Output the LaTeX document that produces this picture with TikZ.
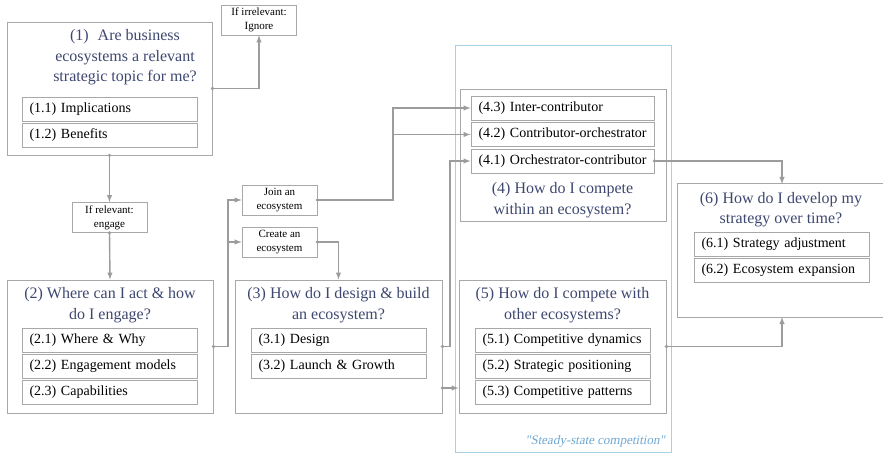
\documentclass[tikz,border=0pt]{standalone}
\usepackage{fontspec}
\setmainfont{Liberation Serif}
\newfontfamily\lslant{Liberation Serif}[FakeSlant=0.2]
\definecolor{boxgray}{HTML}{A8A8A8}
\definecolor{linegray}{HTML}{9C9C9C}
\definecolor{titleblue}{HTML}{3E4770}
\definecolor{framblue}{HTML}{A9D1E6}
\definecolor{noteblue}{HTML}{6FA8D3}
\begin{document}
\begin{tikzpicture}[x=1pt,y=-1pt,
  frame/.style={draw=boxgray, line width=0.9pt, inner sep=0pt},
  title/.style={text=titleblue, align=center, inner sep=0pt, font=\fontsize{16}{20.5}\selectfont},
  sub/.style={draw=boxgray, line width=0.9pt, inner xsep=7.5pt, inner ysep=0pt, minimum height=24pt,
              text width=160pt, align=left, font=\fontsize{14}{16}\selectfont},
  small/.style={draw=boxgray, line width=0.7pt, inner sep=0pt, minimum width=75pt, minimum height=30pt,
              align=center, font=\fontsize{11}{14}\selectfont},
  conn/.style={draw=linegray, line width=1.4pt, -latex},
  dot/.style={circle, fill=linegray, inner sep=0pt, minimum size=3.6pt}
]
\useasboundingbox (0,0) rectangle (883,454);

% steady-state frame
\node[draw=framblue, line width=0.8pt, inner sep=0pt, minimum width=216pt, minimum height=407pt] (steady) at (563,248.5) {};
\node[text=noteblue, font=\fontsize{13}{15}\selectfont\lslant, anchor=east, inner sep=0pt] (steadytxt) at (665,441) {"Steady-state competition"};

% box 1
\node[frame, minimum width=205pt, minimum height=133pt] (b1) at (109.5,88.5) {};
\node[title] (t1) at (125,57.5) {(1)\hspace{9pt}Are business\\ecosystems a relevant\\strategic topic for me?};
\node[sub] (s11) at (109.5,109) {(1.1) Implications};
\node[sub] (s12) at (109.5,135) {(1.2) Benefits};

% small boxes
\node[small] (ign) at (259,20) {If irrelevant:\\Ignore};
\node[small] (rel) at (109.5,217.5) {If relevant:\\engage};
\node[small] (join) at (279.5,200) {Join an\\ecosystem};
\node[small] (create) at (279.5,242) {Create an\\ecosystem};

% box 2
\node[frame, minimum width=206pt, minimum height=133pt] (b2) at (110,346.5) {};
\node[title] (t2) at (110,305) {(2) Where can I act \& how\\do I engage?};
\node[sub] (s21) at (109.5,340) {(2.1) Where \& Why};
\node[sub] (s22) at (109.5,366) {(2.2) Engagement models};
\node[sub] (s23) at (109.5,392) {(2.3) Capabilities};

% box 3
\node[frame, minimum width=207pt, minimum height=133pt] (b3) at (338.5,346.5) {};
\node[title] (t3) at (338.5,305) {(3) How do I design \& build\\an ecosystem?};
\node[sub] (s31) at (338.5,340) {(3.1) Design};
\node[sub] (s32) at (338.5,366) {(3.2) Launch \& Growth};

% box 4
\node[frame, minimum width=206pt, minimum height=132pt] (b4) at (563,155) {};
\node[title] (t4) at (562.5,200) {(4) How do I compete\\within an ecosystem?};
\node[sub, text width=168pt] (s43) at (562.5,108) {\mbox{(4.3) Inter-contributor}};
\node[sub, text width=168pt] (s42) at (562.5,134.5) {\mbox{(4.2) Contributor-orchestrator}};
\node[sub, text width=168pt] (s41) at (562.5,161) {\mbox{(4.1) Orchestrator-contributor}};

% box 5
\node[frame, minimum width=207pt, minimum height=133pt] (b5) at (562.5,346.5) {};
\node[title] (t5) at (562.5,305) {(5) How do I compete with\\other ecosystems?};
\node[sub] (s51) at (562.5,340) {(5.1) Competitive dynamics};
\node[sub] (s52) at (562.5,366) {(5.2) Strategic positioning};
\node[sub] (s53) at (562.5,392) {(5.3) Competitive patterns};

% box 6 (runs off the right edge)
\node[inner sep=0pt, minimum width=205pt, minimum height=133pt] (b6) at (780.5,250.5) {};
\draw[boxgray, line width=0.9pt] (b6.north east) -- (b6.north west) -- (b6.south west) -- (b6.south east);
\node[title] (t6) at (781,209.5) {(6) How do I develop my\\strategy over time?};
\node[sub] (s61) at (781.5,244) {(6.1) Strategy adjustment};
\node[sub] (s62) at (781.5,270) {(6.2) Ecosystem expansion};
\coordinate (b6in) at (782,184);
\coordinate (b6out) at (782,317);

% connectors
\draw[conn] (b1.east) -| (ign.south);
\node[dot] at (b1.east) {};
\draw[conn] (b1.south) -- (rel.north);
\node[dot] at (b1.south) {};
\draw[conn] (rel.south) -- (b2.north);
\node[dot] at (rel.south) {};

\draw[conn] (b2.east) -- (228,346.5) |- (join.west);
\draw[conn] (228,242) -- (create.west);
\node[dot] at (b2.east) {};

\draw[conn] (join.east) -- (393,200) |- (s43.west);
\draw[conn] (393,134.5) -- (s42.west);
\node[dot] at (join.east) {};

\draw[conn] (create.east) -| (b3.north);
\node[dot] at (create.east) {};

\draw[conn] (b3.east) -- (450,346.5) |- (s41.west);
\node[dot] at (b3.east) {};
\draw[conn] (b3.east |- 0,388) -- (b5.west |- 0,388);
\node[dot] at (b3.east |- 0,388) {};

\draw[conn] (s41.east) -| (b6in);
\node[dot] at (s41.east) {};
\draw[conn] (b5.east) -| (b6out);
\node[dot] at (b5.east) {};
\end{tikzpicture}
\end{document}
